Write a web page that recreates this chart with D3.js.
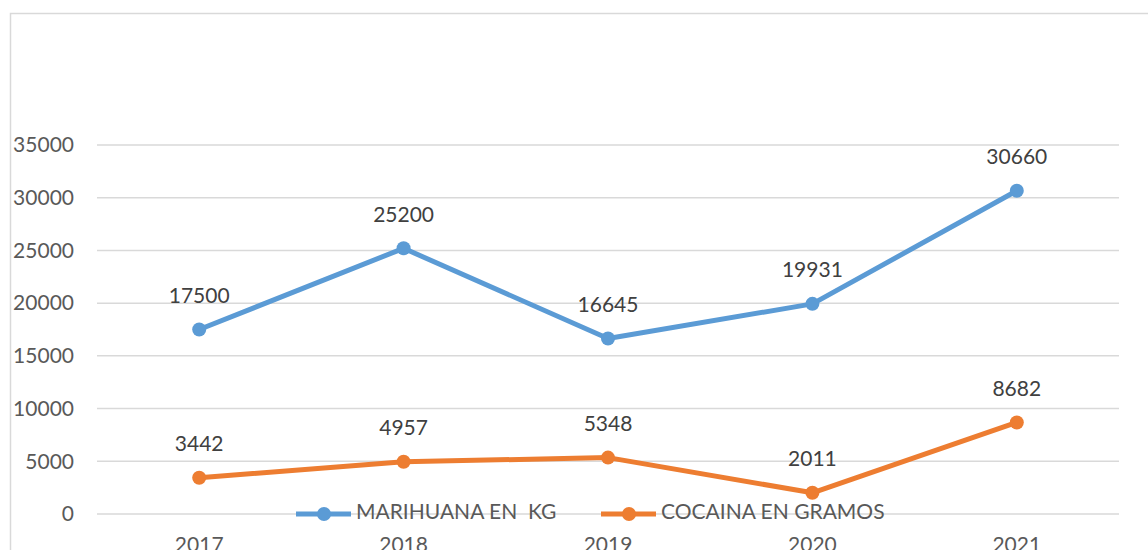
<!DOCTYPE html>
<html>
<head>
<meta charset="utf-8">
<script src="https://cdn.jsdelivr.net/npm/d3@7"></script>
<style>
  body { margin: 0; background: #fff; }
  svg { display: block; font-family: Lato, "Open Sans", sans-serif; }
</style>
</head>
<body>
<script>
var years = ["2017", "2018", "2019", "2020", "2021"];
var marihuana = [17500, 25200, 16645, 19931, 30660];
var cocaina = [3442, 4957, 5348, 2011, 8682];
var yTicks = [0, 5000, 10000, 15000, 20000, 25000, 30000, 35000];
var seriesNames = ["MARIHUANA EN  KG", "COCAINA EN GRAMOS"];
var seriesColors = ["#5b9bd5", "#ed7d31"];

var width = 1148, height = 550;

var svg = d3.select("body").append("svg")
    .attr("width", width)
    .attr("height", height);

// chart area border
svg.append("rect")
    .attr("x", 10.5)
    .attr("y", 13.5)
    .attr("width", 1160)
    .attr("height", 600)
    .attr("fill", "none")
    .attr("stroke", "#d9d9d9")
    .attr("stroke-width", 1.5);

var x = d3.scaleBand()
    .domain(years)
    .range([97, 1119]);

var y = d3.scaleLinear()
    .domain([0, 35000])
    .range([514, 145]);

// gridlines
svg.append("g").selectAll("line")
    .data(yTicks)
    .enter().append("line")
    .attr("x1", 97)
    .attr("x2", 1119)
    .attr("y1", function(d){return y(d);})
    .attr("y2", function(d){return y(d);})
    .attr("stroke", "#d9d9d9")
    .attr("stroke-width", 1.5);

var yAxis = d3.axisLeft(y).tickValues(yTicks).tickSize(0).tickPadding(0).tickFormat(d3.format("d"));
var gy = svg.append("g")
    .attr("transform", "translate(74,0)")
    .call(yAxis);
gy.select(".domain").remove();
gy.selectAll("text")
    .attr("fill", "#595959")
    .attr("font-size", 21)
    .attr("font-family", "Lato, sans-serif");

var xAxis = d3.axisBottom(x).tickSize(0).tickPadding(0);
var gx = svg.append("g")
    .attr("transform", "translate(0,537)")
    .call(xAxis);
gx.select(".domain").remove();
gx.selectAll("text")
    .attr("fill", "#595959")
    .attr("font-size", 21)
    .attr("font-family", "Lato, sans-serif");

var line = d3.line()
    .x(function(d, i){return x(years[i]) + x.bandwidth() / 2;})
    .y(function(d){return y(d);});

[marihuana, cocaina].forEach(function(series, s) {
  var g = svg.append("g");
  g.append("path")
      .datum(series)
      .attr("d", line)
      .attr("fill", "none")
      .attr("stroke", seriesColors[s])
      .attr("stroke-width", 5)
      .attr("stroke-linejoin", "round")
      .attr("stroke-linecap", "round");
  g.selectAll("circle")
      .data(series)
      .enter().append("circle")
      .attr("cx", function(d, i){return x(years[i]) + x.bandwidth() / 2;})
      .attr("cy", function(d){return y(d);})
      .attr("r", 7)
      .attr("fill", seriesColors[s]);
  g.selectAll("text")
      .data(series)
      .enter().append("text")
      .attr("x", function(d, i){return x(years[i]) + x.bandwidth() / 2;})
      .attr("y", function(d){return y(d) - 32;})
      .attr("text-anchor", "middle")
      .attr("dominant-baseline", "middle")
      .attr("fill", "#404040")
      .attr("font-size", 21)
      .text(function(d){return d;});
});

// legend
var legendX = [296, 601];
var legend = svg.append("g").selectAll("g")
    .data(seriesNames)
    .enter().append("g")
    .attr("transform", function(d, i){return "translate(" + legendX[i] + ",514)";});
legend.append("line")
    .attr("x1", 0).attr("x2", 55)
    .attr("stroke", function(d, i){return seriesColors[i];})
    .attr("stroke-width", 5);
legend.append("circle")
    .attr("cx", 28)
    .attr("r", 7)
    .attr("fill", function(d, i){return seriesColors[i];});
legend.append("text")
    .attr("x", 60)
    .attr("dominant-baseline", "middle")
    .attr("fill", "#595959")
    .attr("font-size", 21)
    .attr("xml:space", "preserve")
    .style("white-space", "pre")
    .text(function(d){return d;});
</script>
</body>
</html>
